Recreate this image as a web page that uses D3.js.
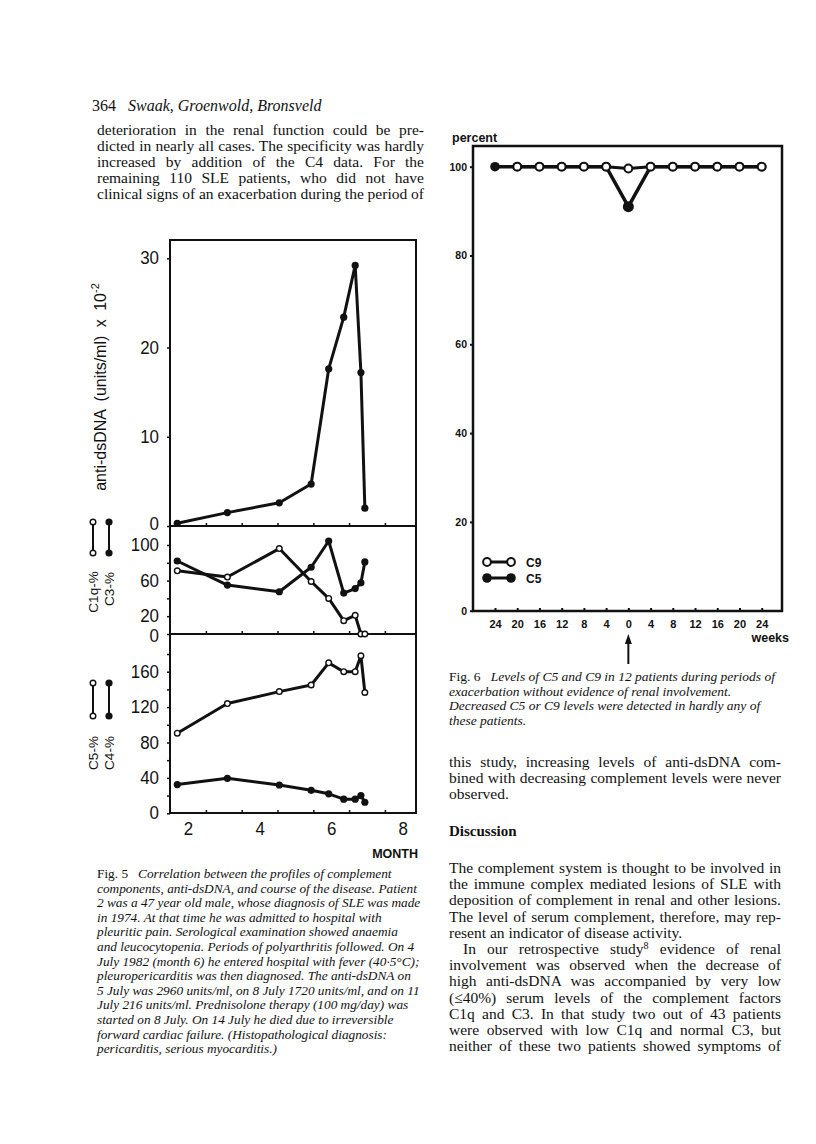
<!DOCTYPE html>
<html>
<head>
<meta charset="utf-8">
<script src="https://cdn.jsdelivr.net/npm/d3@7"></script>
<style>
  body { margin: 0; background: #fff; }
</style>
</head>
<body>
<svg width="816" height="1144"></svg>
<script>
'use strict';

// ---- Fig. 5 data ----
var months = [1.7, 3.1, 4.55, 5.44, 5.93, 6.35, 6.67, 6.83, 6.94];
var antiDsDNA = [0.3, 1.5, 2.6, 4.7, 17.6, 23.4, 29.2, 17.2, 2.0];
var c1q = [71, 64, 96, 59, 40, 15, 21, 0, 0];
var c3 = [82, 55, 47.5, 75, 104.5, 46, 51, 57.5, 81];
var c5 = [90.5, 124, 137.5, 145, 170, 160, 160, 178, 136.5];
var c4 = [32.5, 39.5, 32, 26, 22, 16, 16, 20, 12.5];
var monthLabels = [2, 4, 6, 8];
var monthTicks = [2.5, 3.5, 4.5, 5.5, 6.5, 7.5];
var dnaTicks = [0, 10, 20, 30];
var c13Ticks = [0, 20, 40, 60, 80, 100];
var c13Labels = [0, 20, 60, 100];
var c45Ticks = [0, 20, 40, 60, 80, 100, 120, 140, 160, 180];
var c45Labels = [0, 40, 80, 120, 160];

// ---- Fig. 6 data ----
var weeks = [-24, -20, -16, -12, -8, -4, 0, 4, 8, 12, 16, 20, 24];
var c9Levels = [null, 100, 100, 100, 100, 100, 99.6, 100, 100, 100, 100, 100, 100];
var c5Levels = [100, 100, 100, 100, 100, 100, 91, 100, 100, 100, 100, 100, 100];
var percentTicks = [0, 20, 40, 60, 80, 100];

var svg = d3.select('svg');
var ink = '#111';
var serif = "'Liberation Serif', 'Times New Roman', serif";
var sans = "'Liberation Sans', Arial, sans-serif";

// ---------- text helper ----------
function addLine(x, y, segs, size, width, family) {
    var t = svg.append('text')
        .attr('x', x).attr('y', y)
        .attr('font-family', family || serif)
        .attr('font-size', size)
        .attr('fill', ink)
        .style('white-space', 'pre');
    segs.forEach(function(s) {
        var ts = t.append('tspan').text(s[0]);
        if (s[1] === 'i') ts.attr('font-style', 'italic');
        if (s[1] === 'b') ts.attr('font-weight', 'bold');
        if (s[1] === 'sup') ts.attr('baseline-shift', 'super').attr('font-size', size * 0.65);
    });
    if (width) {
        var natural = t.node().getComputedTextLength();
        var spaces = (t.text().match(/ /g) || []).length;
        if (spaces && (width.justify || natural > width.max)) {
            t.attr('word-spacing', (width.max - natural) / spaces);
        }
    }
    return t;
}

// condensed look for the hand-lettered numbers of Fig. 5
function squeeze(sel) {
    sel.attr('font-family', sans).attr('font-size', 17.5).attr('fill', ink)
        .attr('lengthAdjust', 'spacingAndGlyphs')
        .attr('textLength', function() { return this.textContent.length * 9.4; });
}

// ---------- running head + left column ----------
addLine(92, 111, [['364   ', ''], ['Swaak, Groenwold, Bronsveld', 'i']], 16);

var leftTop = [
    'deterioration in the renal function could be pre-',
    'dicted in nearly all cases. The specificity was hardly',
    'increased by addition of the C4 data. For the',
    'remaining 110 SLE patients, who did not have',
    'clinical signs of an exacerbation during the period of'
];
leftTop.forEach(function(l, i) {
    addLine(97, 135 + i * 16, [[l, '']], 15.5, {justify: true, max: 327});
});

var fig5Caption = [
    'Correlation between the profiles of complement',
    'components, anti-dsDNA, and course of the disease. Patient',
    '2 was a 47 year old male, whose diagnosis of SLE was made',
    'in 1974. At that time he was admitted to hospital with',
    'pleuritic pain. Serological examination showed anaemia',
    'and leucocytopenia. Periods of polyarthritis followed. On 4',
    'July 1982 (month 6) he entered hospital with fever (40\u00b75\u00b0C);',
    'pleuropericarditis was then diagnosed. The anti-dsDNA on',
    '5 July was 2960 units/ml, on 8 July 1720 units/ml, and on 11',
    'July 216 units/ml. Prednisolone therapy (100 mg/day) was',
    'started on 8 July. On 14 July he died due to irreversible',
    'forward cardiac failure. (Histopathological diagnosis:',
    'pericarditis, serious myocarditis.)'
];
fig5Caption.forEach(function(l, i) {
    var segs = i === 0 ? [['Fig. 5   ', ''], [l, 'i']] : [[l, 'i']];
    addLine(97, 878 + i * 14.6, segs, 13.3, {justify: false, max: 328});
});

// ---------- Fig. 5 chart ----------
var L = 170, R = 416, T = 240, S1 = 526, S2 = 634, B = 813;
var xM = d3.scaleLinear().domain([2, 8]).range([188, 402.8]);
var yDna = d3.scaleLinear().domain([0, 30]).range([S1, 258.3]);
var yC13 = d3.scaleLinear().domain([0, 100]).range([S2, 545]);
var yC45 = d3.scaleLinear().domain([0, 160]).range([813.3, 671.7]);

var fig5 = svg.append('g');

// frame
fig5.append('rect')
    .attr('x', L).attr('y', T).attr('width', R - L).attr('height', B - T)
    .attr('fill', 'none').attr('stroke', ink).attr('stroke-width', 2);

// horizontal baselines with month ticks
[S1, S2, B].forEach(function(yy) {
    var ax = fig5.append('g')
        .attr('transform', 'translate(0,' + yy + ')')
        .call(d3.axisBottom(xM).tickValues(monthTicks).tickSize(-3).tickSizeOuter(0).tickFormat(''));
    ax.select('.domain').attr('d', 'M' + L + ',0H' + R).attr('stroke', ink).attr('stroke-width', 2);
    ax.selectAll('.tick line').attr('stroke', ink).attr('stroke-width', 1.5);
});

// month labels
var xLab = fig5.append('g')
    .attr('transform', 'translate(0,' + B + ')')
    .call(d3.axisBottom(xM).tickValues(monthLabels).tickSize(0).tickPadding(9).tickFormat(d3.format('d')));
xLab.select('.domain').remove();
squeeze(xLab.selectAll('text'));
xLab.selectAll('text').attr('font-size', 19);

fig5.append('text')
    .attr('x', 418).attr('y', 858)
    .attr('text-anchor', 'end')
    .attr('font-family', sans).attr('font-weight', 'bold').attr('font-size', 12.5)
    .attr('fill', ink)
    .text('MONTH');

// zeroShift nudges the "0" label where two panels meet (as in the scan)
function leftAxis(scale, ticks, labels, zeroShift) {
    var ax = fig5.append('g')
        .attr('transform', 'translate(' + L + ',0)')
        .call(d3.axisLeft(scale).tickValues(ticks).tickSize(3).tickSizeOuter(0).tickPadding(8)
            .tickFormat(function(d) { return labels.indexOf(d) >= 0 ? d : ''; }));
    ax.select('.domain').remove();
    ax.selectAll('.tick line').attr('stroke', ink).attr('stroke-width', 1.5);
    squeeze(ax.selectAll('text'));
    ax.selectAll('.tick').filter(function(d) { return d === 0; })
        .select('text').attr('y', zeroShift || 0);
}
leftAxis(yDna, dnaTicks, dnaTicks, -2);
leftAxis(yC13, c13Ticks, c13Labels, 2);
leftAxis(yC45, c45Ticks, c45Labels, 0);

// series
function series(values, yScale) {
    var pts = months.map(function(m, i) { return [m, values[i]]; });
    var line = d3.line()
        .x(function(d) { return xM(d[0]); })
        .y(function(d) { return yScale(d[1]); });
    fig5.append('path')
        .attr('d', line(pts))
        .attr('fill', 'none').attr('stroke', ink).attr('stroke-width', 3)
        .attr('stroke-linejoin', 'round');
    return pts;
}
function dots(pts, yScale, filled) {
    fig5.selectAll(null)
        .data(pts)
        .enter()
        .append('circle')
        .attr('cx', function(d) { return xM(d[0]); })
        .attr('cy', function(d) { return yScale(d[1]); })
        .attr('r', filled ? 3.6 : 2.8)
        .attr('fill', filled ? ink : '#fff')
        .attr('stroke', ink).attr('stroke-width', filled ? 0 : 1.4);
}
var pDna = series(antiDsDNA, yDna);
var pC1q = series(c1q, yC13);
var pC3 = series(c3, yC13);
var pC5 = series(c5, yC45);
var pC4 = series(c4, yC45);
dots(pDna, yDna, true);
dots(pC3, yC13, true);
dots(pC1q, yC13, false);
dots(pC4, yC45, true);
dots(pC5, yC45, false);

// y title
var yTitle = fig5.append('text')
    .attr('transform', 'translate(100,387) rotate(-90)')
    .attr('text-anchor', 'middle')
    .attr('dy', '0.35em')
    .attr('font-family', sans).attr('font-size', 16)
    .attr('word-spacing', 4)
    .attr('fill', ink);
yTitle.append('tspan').text('anti-dsDNA (units/ml) x 10');
yTitle.append('tspan').attr('dy', -7).attr('font-size', 11).text('-2');

// legend glyphs at left
function legendGlyph(cx, y1, y2, filled) {
    fig5.append('line')
        .attr('x1', cx).attr('x2', cx).attr('y1', y1).attr('y2', y2)
        .attr('stroke', ink).attr('stroke-width', 2);
    [y1, y2].forEach(function(yy) {
        fig5.append('circle')
            .attr('cx', cx).attr('cy', yy)
            .attr('r', filled ? 3.6 : 2.8)
            .attr('fill', filled ? ink : '#fff')
            .attr('stroke', ink).attr('stroke-width', filled ? 0 : 1.4);
    });
}
legendGlyph(93, 522, 553, false);
legendGlyph(109, 522, 553, true);
legendGlyph(93, 683, 716, false);
legendGlyph(109, 683, 716, true);

function sideLabel(cx, cy, txt) {
    fig5.append('text')
        .attr('transform', 'translate(' + cx + ',' + cy + ') rotate(-90)')
        .attr('text-anchor', 'middle').attr('dy', '0.35em')
        .attr('font-family', sans).attr('font-size', 13.5)
        .attr('fill', ink)
        .text(txt);
}
sideLabel(93, 592, 'C1q-%');
sideLabel(109, 589, 'C3-%');
sideLabel(93, 753, 'C5-%');
sideLabel(109, 753, 'C4-%');

// ---------- Fig. 6 chart ----------
var L6 = 473, R6 = 782, T6 = 146, B6 = 611;
var xW = d3.scaleLinear().domain([-24, 24]).range([495, 761.7]);
var yP = d3.scaleLinear().domain([0, 100]).range([610.7, 166.7]);

var fig6 = svg.append('g');

fig6.append('rect')
    .attr('x', L6).attr('y', T6).attr('width', R6 - L6).attr('height', B6 - T6)
    .attr('fill', 'none').attr('stroke', ink).attr('stroke-width', 2.5);

var wAxis = fig6.append('g')
    .attr('transform', 'translate(0,' + B6 + ')')
    .call(d3.axisBottom(xW).tickValues(weeks).tickSize(-3).tickSizeOuter(0).tickPadding(9)
        .tickFormat(function(d) { return Math.abs(d); }));
wAxis.select('.domain').remove();
wAxis.selectAll('.tick line').attr('stroke', ink).attr('stroke-width', 2);
wAxis.selectAll('text').attr('font-family', sans).attr('font-weight', 'bold')
    .attr('font-size', 11).attr('fill', ink);

var pAxis = fig6.append('g')
    .attr('transform', 'translate(' + L6 + ',0)')
    .call(d3.axisLeft(yP).tickValues(percentTicks).tickSize(3).tickSizeOuter(0).tickPadding(3));
pAxis.select('.domain').remove();
pAxis.selectAll('.tick line').attr('stroke', ink).attr('stroke-width', 2);
pAxis.selectAll('text').attr('font-family', sans).attr('font-weight', 'bold')
    .attr('font-size', 10.5).attr('fill', ink);

fig6.append('text')
    .attr('x', 452).attr('y', 142)
    .attr('font-family', sans).attr('font-weight', 'bold').attr('font-size', 12.5)
    .attr('fill', ink).text('percent');

fig6.append('text')
    .attr('x', 789).attr('y', 642)
    .attr('text-anchor', 'end')
    .attr('font-family', sans).attr('font-weight', 'bold').attr('font-size', 12.5)
    .attr('fill', ink).text('weeks');

var wLine = d3.line()
    .defined(function(d) { return d[1] != null; })
    .x(function(d) { return xW(d[0]); })
    .y(function(d) { return yP(d[1]); });
var c5Pts = weeks.map(function(w, i) { return [w, c5Levels[i]]; });
var c9Pts = weeks.map(function(w, i) { return [w, c9Levels[i]]; });

fig6.append('path').attr('d', wLine(c5Pts))
    .attr('fill', 'none').attr('stroke', ink).attr('stroke-width', 3.5);
fig6.append('path').attr('d', wLine(c9Pts))
    .attr('fill', 'none').attr('stroke', ink).attr('stroke-width', 3);

fig6.selectAll(null).data(c5Pts).enter().append('circle')
    .attr('cx', function(d) { return xW(d[0]); })
    .attr('cy', function(d) { return yP(d[1]); })
    .attr('r', function(d) { return d[1] < 100 ? 5.5 : 4.8; })
    .attr('fill', ink);
fig6.selectAll(null).data(c9Pts.filter(function(d) { return d[1] != null; })).enter().append('circle')
    .attr('cx', function(d) { return xW(d[0]); })
    .attr('cy', function(d) { return yP(d[1]); })
    .attr('r', 3.9)
    .attr('fill', '#fff').attr('stroke', ink).attr('stroke-width', 2);

// legend
[['C9', false, 562], ['C5', true, 578]].forEach(function(it) {
    var yy = it[2];
    fig6.append('line').attr('x1', 487).attr('x2', 511).attr('y1', yy).attr('y2', yy)
        .attr('stroke', ink).attr('stroke-width', 3);
    [487, 511].forEach(function(cx) {
        fig6.append('circle').attr('cx', cx).attr('cy', yy)
            .attr('r', it[1] ? 4.8 : 3.9)
            .attr('fill', it[1] ? ink : '#fff')
            .attr('stroke', ink).attr('stroke-width', it[1] ? 0 : 2);
    });
    fig6.append('text').attr('x', 526).attr('y', yy + 4.5)
        .attr('font-family', sans).attr('font-weight', 'bold').attr('font-size', 12)
        .attr('fill', ink).text(it[0]);
});

// arrow under week 0
fig6.append('line')
    .attr('x1', xW(0)).attr('x2', xW(0)).attr('y1', 642).attr('y2', 664)
    .attr('stroke', ink).attr('stroke-width', 2);
fig6.append('path')
    .attr('d', 'M' + xW(0) + ',634l-3.5,10h7z')
    .attr('fill', ink);

// ---------- right column text ----------
var fig6Caption = [
    'Levels of C5 and C9 in 12 patients during periods of',
    'exacerbation without evidence of renal involvement.',
    'Decreased C5 or C9 levels were detected in hardly any of',
    'these patients.'
];
fig6Caption.forEach(function(l, i) {
    var segs = i === 0 ? [['Fig. 6   ', ''], [l, 'i']] : [[l, 'i']];
    addLine(449, 681 + i * 14.6, segs, 13.5, {justify: false, max: 332});
});

var rightTop = [
    ['this study, increasing levels of anti-dsDNA com-', true],
    ['bined with decreasing complement levels were never', true],
    ['observed.', false]
];
rightTop.forEach(function(l, i) {
    addLine(449, 767 + i * 16.2, [[l[0], '']], 15.5, {justify: l[1], max: 332});
});

addLine(449, 836, [['Discussion', 'b']], 15);

var rightBody = [
    [[['The complement system is thought to be involved in', '']], true, 0],
    [[['the immune complex mediated lesions of SLE with', '']], true, 0],
    [[['deposition of complement in renal and other lesions.', '']], true, 0],
    [[['The level of serum complement, therefore, may rep-', '']], true, 0],
    [[['resent an indicator of disease activity.', '']], false, 0],
    [[['In our retrospective study', ''], ['8', 'sup'], [' evidence of renal', '']], true, 14],
    [[['involvement was observed when the decrease of', '']], true, 0],
    [[['high anti-dsDNA was accompanied by very low', '']], true, 0],
    [[['(\u226440%) serum levels of the complement factors', '']], true, 0],
    [[['C1q and C3. In that study two out of 43 patients', '']], true, 0],
    [[['were observed with low C1q and normal C3, but', '']], true, 0],
    [[['neither of these two patients showed symptoms of', '']], true, 0]
];
rightBody.forEach(function(l, i) {
    addLine(449 + l[2], 873 + i * 16.2, l[0], 15.5, {justify: l[1], max: 332 - l[2]});
});
</script>
</body>
</html>
